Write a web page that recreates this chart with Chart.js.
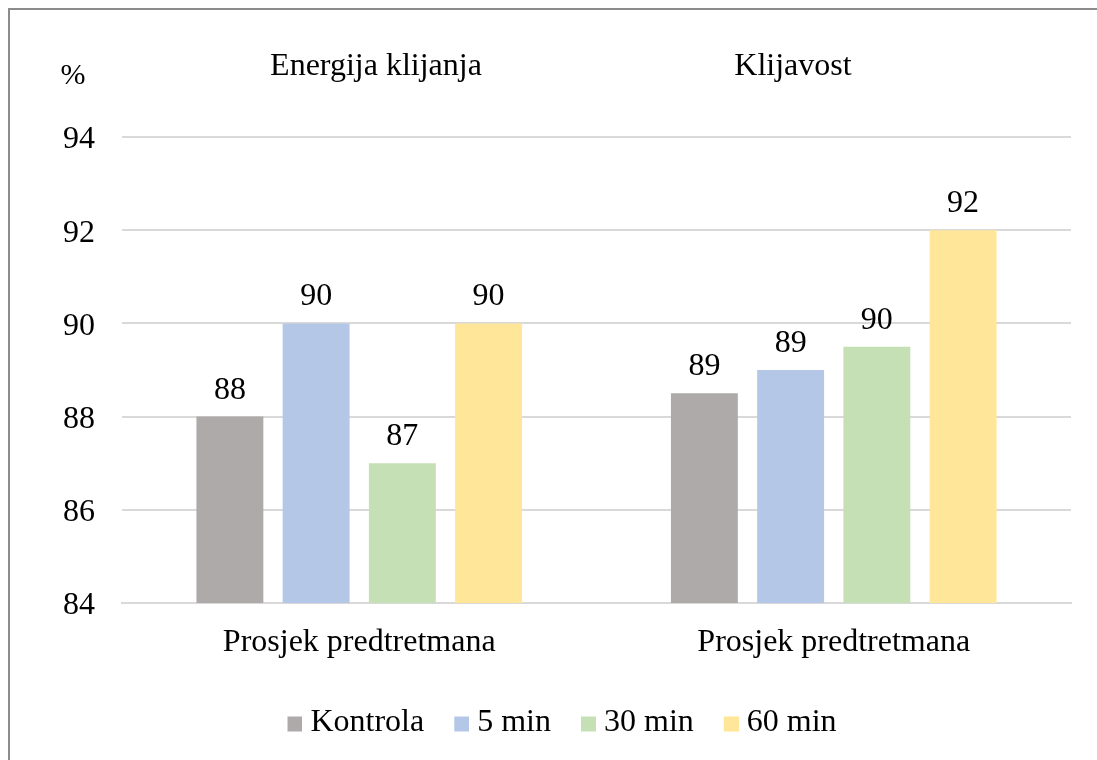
<!DOCTYPE html>
<html>
<head>
<meta charset="utf-8">
<script src="https://cdn.jsdelivr.net/npm/chart.js@4/dist/chart.umd.min.js"></script>
<style>
  html, body { margin: 0; padding: 0; background: #fff; overflow: hidden; }
  #wrap { position: absolute; left: 0; top: 0; width: 1097px; height: 760px; }
  #frame { position: absolute; left: 8px; top: 8px; width: 1200px; height: 900px;
           border-left: 2px solid #8c8c8c; border-top: 2px solid #8c8c8c; pointer-events: none; }
</style>
</head>
<body>
<div id="wrap"><canvas id="c" width="1097" height="760"></canvas></div>
<div id="frame"></div>
<script>
const categories = ["Prosjek predtretmana", "Prosjek predtretmana"];
const groupTitles = ["Energija klijanja", "Klijavost"];
const seriesNames = ["Kontrola", "5 min", "30 min", "60 min"];
const kontrola = [88, 88.5];
const min5 = [90, 89];
const min30 = [87, 89.5];
const min60 = [90, 92];
const yTicks = [84, 86, 88, 90, 92, 94];
const unitLabel = "%";
const colors = ["#AEAAAA", "#B4C7E7", "#C5E0B4", "#FFE699"];

const FONT = "'Liberation Serif', 'Times New Roman', serif";
const FS = 32;

// legend marker images: 15px square placed inside an 18x21 canvas
function marker(color) {
  const c = document.createElement('canvas');
  c.width = 18; c.height = 21;
  const g = c.getContext('2d');
  g.fillStyle = color;
  g.fillRect(3, 4, 15, 15);
  return c;
}
const markers = colors.map(marker);

const extraText = {
  id: 'extraText',
  afterDatasetsDraw(chart) {
    const ctx = chart.ctx;
    ctx.save();
    ctx.fillStyle = '#000';
    ctx.font = FS + 'px ' + FONT;
    ctx.textAlign = 'center';
    ctx.textBaseline = 'alphabetic';
    chart.data.datasets.forEach((ds, i) => {
      const meta = chart.getDatasetMeta(i);
      meta.data.forEach((bar, j) => {
        ctx.fillText(String(Math.round(ds.data[j])), bar.x, bar.y - 18);
      });
    });
    const ca = chart.chartArea;
    ctx.fillText(groupTitles[0], ca.left + 254, 75);
    ctx.fillText(groupTitles[1], ca.left + 671, 75);
    ctx.font = '30px ' + FONT;
    ctx.fillText(unitLabel, 73, 84);
    ctx.restore();
  }
};

const series = [kontrola, min5, min30, min60];
new Chart(document.getElementById('c'), {
  type: 'bar',
  data: {
    labels: categories,
    datasets: series.map((d, i) => ({
      label: seriesNames[i],
      data: d,
      backgroundColor: colors[i],
      borderWidth: 0,
      categoryPercentage: 0.727,
      barPercentage: 0.776
    }))
  },
  options: {
    responsive: false,
    animation: false,
    layout: { padding: { top: 137, right: 26, left: 58, bottom: 11 } },
    plugins: {
      tooltip: { enabled: false },
      legend: {
        position: 'bottom',
        labels: {
          usePointStyle: true,
          pointStyleWidth: 2,
          boxHeight: 15,
          padding: 35,
          color: '#000',
          font: { family: FONT, size: FS },
          generateLabels(chart) {
            const items = Chart.defaults.plugins.legend.labels.generateLabels(chart);
            items.forEach((it) => { it.pointStyle = markers[it.datasetIndex]; });
            return items;
          }
        }
      }
    },
    scales: {
      y: {
        min: 84, max: 94,
        afterFit(scale) { scale.width = 64; },
        afterBuildTicks(scale) { scale.ticks = yTicks.map(v => ({ value: v })); },
        ticks: { color: '#000', padding: 27, labelOffset: 3, font: { family: FONT, size: FS } },
        grid: { color: '#d9d9d9', lineWidth: 2, drawTicks: false },
        border: { display: false }
      },
      x: {
        afterFit(scale) { scale.height = 69; },
        ticks: { color: '#000', padding: 20, font: { family: FONT, size: FS } },
        grid: { display: false, drawTicks: false },
        border: { display: true, color: '#d9d9d9', width: 2 }
      }
    }
  },
  plugins: [extraText]
});
</script>
</body>
</html>
